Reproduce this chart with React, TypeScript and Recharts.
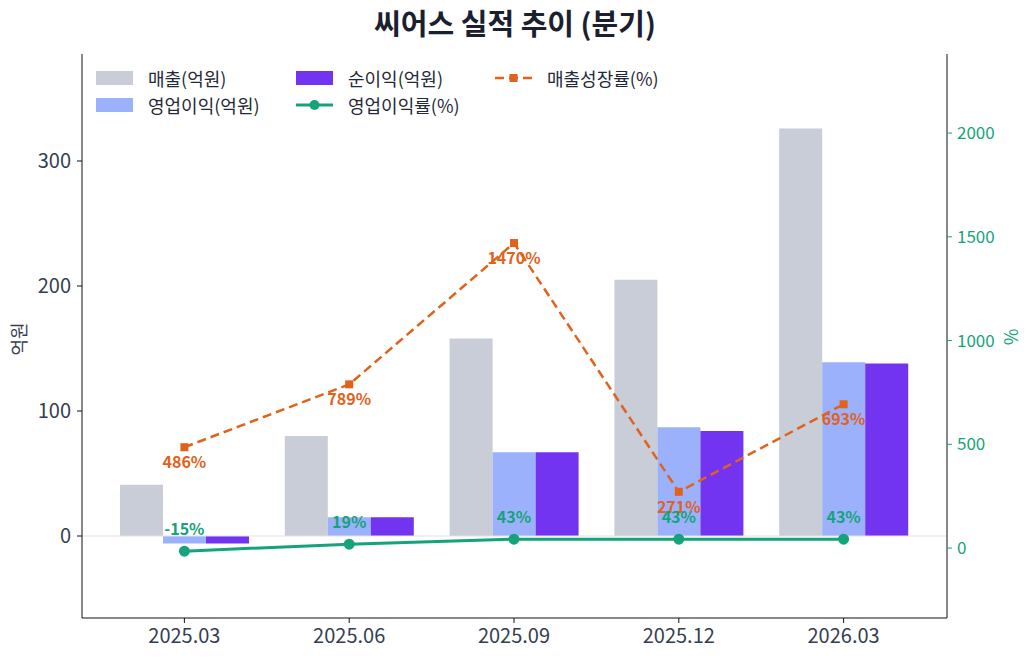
import { ComposedChart, Bar, Line, XAxis, YAxis, ReferenceLine, LabelList } from "recharts";

const quarters = ["2025.03", "2025.06", "2025.09", "2025.12", "2026.03"];
const revenue = [41, 80, 158, 205, 326];
const operatingProfit = [-6, 15, 67, 87, 139];
const netProfit = [-6, 15, 67, 84, 138];
const operatingMargin = [-15, 19, 43, 43, 43];
const revenueGrowth = [486, 789, 1470, 271, 693];
const leftTicks = [0, 100, 200, 300];
const rightTicks = [0, 500, 1000, 1500, 2000];

const data = quarters.map((q, i) => ({
  q,
  revenue: revenue[i],
  op: operatingProfit[i],
  net: netProfit[i],
  margin: operatingMargin[i],
  growth: revenueGrowth[i],
}));

const FONT = '"Noto Sans CJK KR", "Noto Sans", sans-serif';
const GRAY = "#c8cdd7";
const BLUE = "#9cb1fb";
const VIOLET = "#7234f1";
const GREEN = "#14a37a";
const ORANGE = "#e0621b";
const INK = "#343e50";

const legendItems = [
  { label: "매출(억원)", kind: "bar", color: GRAY, x: 96, y: 78 },
  { label: "영업이익(억원)", kind: "bar", color: BLUE, x: 96, y: 105 },
  { label: "순이익(억원)", kind: "bar", color: VIOLET, x: 296, y: 78 },
  { label: "영업이익률(%)", kind: "solid", color: GREEN, x: 296, y: 105 },
  { label: "매출성장률(%)", kind: "dash", color: ORANGE, x: 495, y: 78 },
];

const growthLabel = (props: any) => {
  const x = props.x ?? props.viewBox?.x;
  const y = props.y ?? props.viewBox?.y;
  return (
    <text x={x} y={y + 21} textAnchor="middle" fill={ORANGE} fontSize={16} fontWeight={700} fontFamily={FONT}>
      {props.value}%
    </text>
  );
};

const marginLabel = (props: any) => {
  const x = props.x ?? props.viewBox?.x;
  const y = props.y ?? props.viewBox?.y;
  return (
    <text x={x} y={y - 16} textAnchor="middle" fill={GREEN} fontSize={16} fontWeight={700} fontFamily={FONT}>
      {props.value}%
    </text>
  );
};

const squareDot = (props: any) => (
  <rect key={`sq-${props.index}`} x={props.cx - 4} y={props.cy - 4} width={8} height={8} fill={ORANGE} />
);

export default function App() {
  return (
    <div style={{ position: "absolute", left: 0, top: 0, width: 1030, height: 660, fontFamily: FONT, background: "#fff" }}>
      <div
        style={{
          position: "absolute",
          left: 0,
          width: 1030,
          top: 2,
          textAlign: "center",
          fontSize: 29,
          fontWeight: 700,
          color: "#1a2030",
          lineHeight: "40px",
        }}
      >
        씨어스 실적 추이 (분기)
      </div>
      <ComposedChart
        width={1030}
        height={660}
        data={data}
        margin={{ top: 54, right: 20, bottom: 12, left: 20 }}
        barGap={0}
        barSize={43}
      >
        <XAxis
          dataKey="q"
          padding={{ left: 20, right: 21 }}
          height={30}
          tickSize={5}
          tickMargin={6}
          axisLine={{ stroke: "#111" }}
          tickLine={{ stroke: "#111" }}
          tick={{ fontSize: 20, fill: INK, fontFamily: FONT }}
        />
        <YAxis
          yAxisId="left"
          domain={[-65.6, 385.6]}
          ticks={leftTicks}
          allowDataOverflow
          width={62}
          tickSize={5}
          tickMargin={6}
          axisLine={{ stroke: "#111" }}
          tickLine={{ stroke: "#111" }}
          tick={{ fontSize: 20, fill: INK, fontFamily: FONT }}
          label={() => (
            <text x={18} y={339} transform="rotate(-90 18 339)" textAnchor="middle" dominantBaseline="central" fontSize={18} fill={INK} fontFamily={FONT}>
              억원
            </text>
          )}
        />
        <YAxis
          yAxisId="right"
          orientation="right"
          domain={[-337, 2381]}
          ticks={rightTicks}
          allowDataOverflow
          width={63}
          tickSize={5}
          tickMargin={5}
          axisLine={{ stroke: "#111" }}
          tickLine={{ stroke: GREEN }}
          tick={{ fontSize: 17, fill: GREEN, fontFamily: FONT }}
          label={() => (
            <text x={1010} y={337} transform="rotate(-90 1010 337)" textAnchor="middle" dominantBaseline="central" fontSize={18} fill={GREEN} fontFamily={FONT}>
              %
            </text>
          )}
        />
        <ReferenceLine yAxisId="left" y={0} stroke="#e3e3e3" strokeWidth={1} />
        <Bar yAxisId="left" dataKey="revenue" fill={GRAY} isAnimationActive={false} />
        <Bar yAxisId="left" dataKey="op" fill={BLUE} isAnimationActive={false} />
        <Bar yAxisId="left" dataKey="net" fill={VIOLET} isAnimationActive={false} />
        <Line
          yAxisId="right"
          type="linear"
          dataKey="growth"
          stroke={ORANGE}
          strokeWidth={2.5}
          strokeDasharray="9 5"
          dot={squareDot}
          activeDot={false}
          isAnimationActive={false}
        >
          <LabelList dataKey="growth" content={growthLabel} />
        </Line>
        <Line
          yAxisId="right"
          type="linear"
          dataKey="margin"
          stroke={GREEN}
          strokeWidth={3}
          dot={{ r: 5.5, fill: GREEN, stroke: GREEN, strokeWidth: 0 }}
          activeDot={false}
          isAnimationActive={false}
        >
          <LabelList dataKey="margin" content={marginLabel} />
        </Line>
      </ComposedChart>
      {legendItems.map((it) => (
        <div key={it.label} style={{ position: "absolute", left: it.x, top: it.y - 12, height: 24, display: "flex", alignItems: "center" }}>
          <svg width={37} height={14} style={{ marginRight: 15 }}>
            {it.kind === "bar" && <rect x={0} y={0} width={37} height={14} fill={it.color} />}
            {it.kind === "solid" && (
              <g>
                <line x1={0} y1={7} x2={37} y2={7} stroke={it.color} strokeWidth={3} />
                <circle cx={18.5} cy={7} r={5} fill={it.color} />
              </g>
            )}
            {it.kind === "dash" && (
              <g>
                <line x1={0} y1={7} x2={37} y2={7} stroke={it.color} strokeWidth={2.5} strokeDasharray="9 5" />
                <rect x={14.5} y={3} width={8} height={8} fill={it.color} />
              </g>
            )}
          </svg>
          <span style={{ fontSize: 18, color: "#1f2937", whiteSpace: "nowrap" }}>{it.label}</span>
        </div>
      ))}
    </div>
  );
}
